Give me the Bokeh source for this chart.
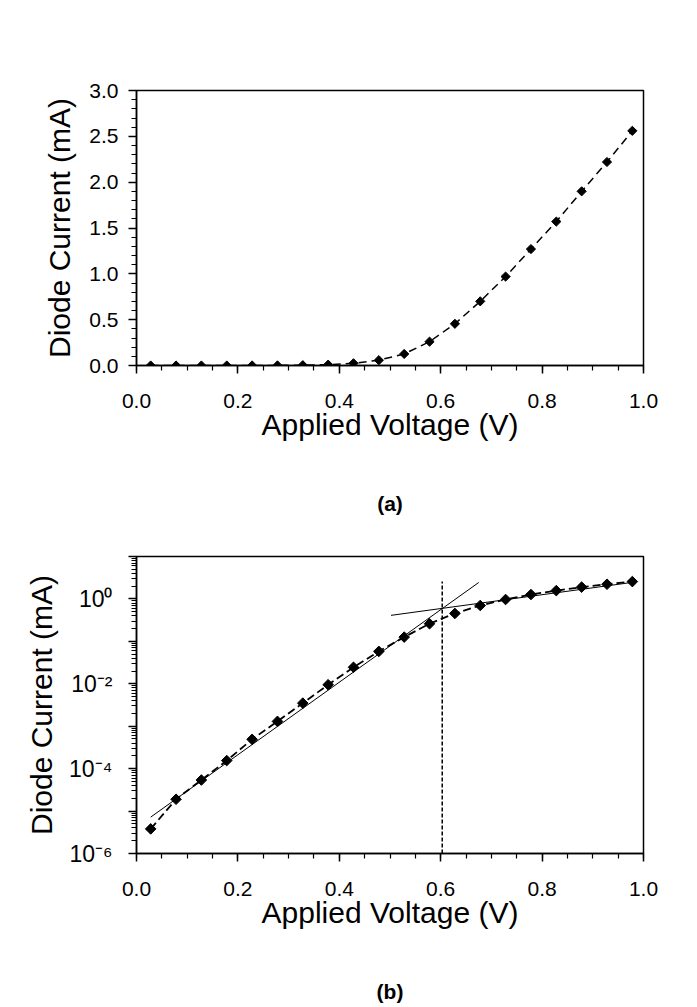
import math
from bokeh.plotting import figure
from bokeh.layouts import column
from bokeh.models import Range1d, SingleIntervalTicker, LogTicker, CustomJSTickFormatter, PrintfTickFormatter
from bokeh.embed import file_html
from bokeh.resources import INLINE
from bokeh.core.properties import value

# ---- data ----
voltage = [0.028, 0.078, 0.128, 0.178, 0.228, 0.278, 0.328, 0.378, 0.428, 0.478,
           0.528, 0.578, 0.628, 0.678, 0.728, 0.778, 0.828, 0.878, 0.928, 0.978]
current_ma = [3.8e-6, 1.9e-5, 5.4e-5, 1.55e-4, 4.9e-4, 1.3e-3, 3.5e-3, 9.5e-3, 0.0245, 0.058,
              0.126, 0.26, 0.455, 0.70, 0.97, 1.27, 1.57, 1.90, 2.22, 2.56]

fit_low_v = [0.028, 0.675]
fit_low_i = [7.2e-6, 2.44]
fit_high_v = [0.502, 0.983]
fit_high_i = [0.41, 2.5]
knee_v = [0.603, 0.603]
knee_i = [1e-6, 2.57]

FONT = "Liberation Sans"
W = 697


def style_axis(ax, tick_px, label_px, label_standoff, title_standoff):
    ax.axis_line_width = 1.5
    ax.axis_line_color = "black"
    ax.major_tick_line_width = 1.5
    ax.minor_tick_line_width = 1.2
    ax.major_tick_line_color = "black"
    ax.minor_tick_line_color = "black"
    ax.major_tick_out = 8
    ax.major_tick_in = 0
    ax.minor_tick_out = 5
    ax.minor_tick_in = 0
    ax.major_label_text_font = FONT
    ax.major_label_text_font_size = f"{tick_px}px"
    ax.major_label_text_color = "black"
    ax.major_label_standoff = label_standoff
    ax.axis_label_text_font = FONT
    ax.axis_label_text_font_size = f"{label_px}px"
    ax.axis_label_text_font_style = "normal"
    ax.axis_label_text_color = "black"
    ax.axis_label_standoff = title_standoff


def base_fig(height, yr, left, right, top, bottom, y_axis_type="linear"):
    p = figure(width=W, height=height, x_range=Range1d(0, 1), y_range=yr,
               y_axis_type=y_axis_type, output_backend="svg", toolbar_location=None,
               min_border_left=left, min_border_right=right,
               min_border_top=top, min_border_bottom=bottom)
    p.title.visible = False
    p.grid.visible = False
    p.outline_line_color = "black"
    p.outline_line_width = 1.5
    p.outline_line_alpha = 1.0
    p.background_fill_color = "white"
    p.border_fill_color = "white"
    return p


def caption(height, text, y_from_top):
    c = figure(width=W, height=height, x_range=Range1d(0, W), y_range=Range1d(0, height),
               x_axis_type=None, y_axis_type=None, output_backend="svg",
               toolbar_location=None, min_border=0, outline_line_color=None)
    c.title.visible = False
    c.grid.visible = False
    c.text(x=[W / 2], y=[height - y_from_top], text=[text], text_font=value(FONT),
           text_font_style="bold", text_font_size="21px", text_align="center",
           text_baseline="middle", text_color="black")
    return c


# ---- (a) linear plot ----
p1 = base_fig(460, Range1d(0, 3), 136, 54, 90, 95)
p1.xaxis.ticker = SingleIntervalTicker(interval=0.2, num_minor_ticks=4)
p1.yaxis.ticker = SingleIntervalTicker(interval=0.5, num_minor_ticks=5)
p1.xaxis.formatter = PrintfTickFormatter(format="%.1f")
p1.yaxis.formatter = PrintfTickFormatter(format="%.1f")
p1.xaxis.axis_label = "Applied Voltage (V)"
p1.yaxis.axis_label = "Diode Current (mA)"
style_axis(p1.xaxis[0], 21, 30, 20, -3)
style_axis(p1.yaxis[0], 21, 30, 10, 10)

p1.line(voltage, current_ma, line_color="black", line_width=1.5, line_dash="8 5")
p1.scatter(voltage, current_ma, marker="square", size=6.5, angle=math.pi / 4,
           fill_color="black", line_color="black")

cap1 = caption(86, "(a)", 43)

# ---- (b) log plot ----
p2 = base_fig(404, Range1d(1e-6, 10), 124, 53, 10, 97, y_axis_type="log")
p2.xaxis.ticker = SingleIntervalTicker(interval=0.2, num_minor_ticks=4)
p2.yaxis.ticker = LogTicker(num_minor_ticks=10)
p2.xaxis.formatter = PrintfTickFormatter(format="%.1f")
p2.yaxis.formatter = CustomJSTickFormatter(code="""
const e = Math.round(Math.log10(tick));
if (e % 2 !== 0) { return ""; }
const sup = {"0":"\u2070","1":"\u00b9","2":"\u00b2","3":"\u00b3","4":"\u2074",
             "5":"\u2075","6":"\u2076","7":"\u2077","8":"\u2078","9":"\u2079","-":"\u207b"};
return "10" + String(e).split("").map(c => sup[c]).join("");
""")
p2.xaxis.axis_label = "Applied Voltage (V)"
p2.yaxis.axis_label = "Diode Current (mA)"
style_axis(p2.xaxis[0], 21, 30, 20, -3)
style_axis(p2.yaxis[0], 23, 30, 16, 8)

p2.line(fit_low_v, fit_low_i, line_color="black", line_width=1)
p2.line(fit_high_v, fit_high_i, line_color="black", line_width=1)
p2.line(knee_v, knee_i, line_color="black", line_width=1.5, line_dash="4 2")
p2.line(voltage, current_ma, line_color="black", line_width=1.8, line_dash="8 4")
p2.scatter(voltage, current_ma, marker="square", size=7.5, angle=math.pi / 4,
           fill_color="black", line_color="black")

cap2 = caption(57, "(b)", 41)

layout = column(p1, cap1, p2, cap2, spacing=0)
open("out.html", "w").write(file_html(layout, INLINE))
